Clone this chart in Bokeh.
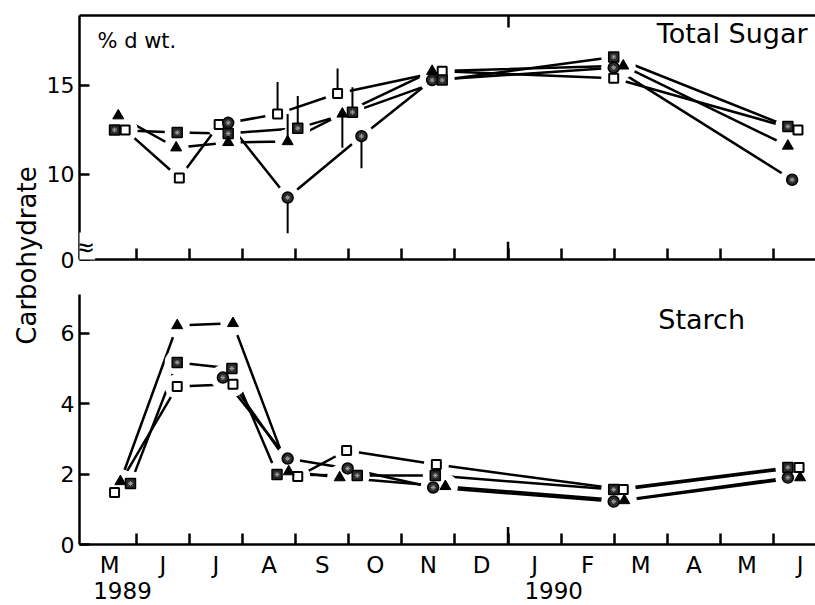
import math
from bokeh.plotting import figure
from bokeh.layouts import row, column
from bokeh.models import Range1d, FixedTicker, LinearAxis, Label
from bokeh.embed import file_html
from bokeh.resources import INLINE

# ---------------- data ----------------
MONTHS = ["M", "J", "J", "A", "S", "O", "N", "D", "J", "F", "M", "A", "M", "J"]
MONTH_POS = [i + 0.5 for i in range(14)]          # months since 1 May 1989 (mid-month)
MONTH_BOUNDS = list(range(1, 14))                  # month boundaries
YEAR_LABELS = ["1989", "1990"]
YEAR_POS = [0.74, 8.86]
YEAR_START = 8                                     # 1 Jan 1990

# Total sugar (% d wt.)
SUG_SQ_OPEN_X = [0.79, 1.81, 2.56, 3.66, 4.79, 6.76, 9.99, 13.46]
SUG_SQ_OPEN_Y = [12.5, 9.8, 12.8, 13.4, 14.55, 15.8, 15.4, 12.5]
SUG_SQ_DARK_X = [0.59, 1.77, 2.73, 4.04, 5.07, 6.76, 9.99, 13.27]
SUG_SQ_DARK_Y = [12.5, 12.35, 12.3, 12.6, 13.5, 15.3, 16.6, 12.7]
SUG_TRI_X = [0.66, 1.75, 2.73, 3.85, 4.88, 6.57, 10.17, 13.27]
SUG_TRI_Y = [13.3, 11.5, 11.8, 11.85, 13.4, 15.8, 16.1, 11.6]
SUG_CIRC_X = [2.73, 3.85, 5.24, 6.57, 9.99, 13.35]
SUG_CIRC_Y = [12.9, 8.7, 12.15, 15.3, 16.0, 9.7]

# one-sided error bars (sugar)
SUG_ERR_X = [3.66, 3.85, 3.85, 4.04, 4.79, 4.88, 5.07, 5.24]
SUG_ERR_FROM = [13.4, 11.85, 8.7, 12.6, 14.55, 13.4, 13.5, 12.15]
SUG_ERR_TO = [15.2, 13.4, 6.7, 14.4, 15.95, 11.5, 14.9, 10.35]

# Starch
STA_SQ_OPEN_X = [0.59, 1.77, 2.82, 4.04, 4.96, 6.65, 10.17, 13.48]
STA_SQ_OPEN_Y = [1.48, 4.49, 4.55, 1.93, 2.67, 2.27, 1.56, 2.19]
STA_SQ_DARK_X = [0.89, 1.77, 2.80, 3.65, 5.16, 6.63, 9.99, 13.27]
STA_SQ_DARK_Y = [1.73, 5.17, 5.0, 1.99, 1.96, 1.96, 1.56, 2.19]
STA_TRI_X = [0.70, 1.77, 2.82, 3.87, 4.83, 6.82, 10.19, 13.5]
STA_TRI_Y = [1.79, 6.22, 6.28, 2.07, 1.9, 1.65, 1.25, 1.9]
STA_CIRC_X = [2.63, 3.85, 4.98, 6.59, 9.99, 13.27]
STA_CIRC_Y = [4.74, 2.44, 2.16, 1.62, 1.22, 1.9]

SUG_TICKS = [10, 15]
SUG_BREAK_LABEL = "0"
STA_TICKS = [0, 2, 4, 6]

# ---------------- styling ----------------
FONT = "DejaVu Sans"
X0, X1 = -0.07, 13.79
SUG_Y0, SUG_Y1 = 5.22, 18.93
STA_Y0, STA_Y1 = 0.0, 7.1
AX_W = 2.5
LINE_W = 2.5
LEFT_W = 43
MAIN_W = 815 - LEFT_W


def base_fig(width, height, yr, top, bottom):
    p = figure(width=width, height=height, x_range=Range1d(X0, X1), y_range=yr,
               output_backend="svg", toolbar_location=None,
               x_axis_location=None, y_axis_location=None,
               min_border_left=77 - LEFT_W, min_border_right=0,
               min_border_top=top, min_border_bottom=bottom)
    p.grid.visible = False
    p.outline_line_color = None
    p.background_fill_color = "white"
    p.border_fill_color = "white"
    return p


def style_axis(ax, tick_in):
    ax.axis_line_width = AX_W
    ax.axis_line_color = "black"
    ax.major_tick_line_width = AX_W
    ax.major_tick_line_color = "black"
    ax.major_tick_in = tick_in
    ax.major_tick_out = 0
    ax.minor_tick_line_color = None
    ax.major_label_text_font = FONT
    ax.major_label_text_color = "black"


def series(p, xs, ys):
    p.line(xs, ys, line_width=LINE_W, line_color="black")


def halos(p, xs, ys):
    p.scatter(xs, ys, marker="circle", size=25, fill_color="white", line_color=None)


def markers(p, sq_open, sq_dark, tri, circ):
    p.scatter(sq_open[0], sq_open[1], marker="square", size=9, fill_color="white",
              line_color="black", line_width=2)
    p.scatter(sq_dark[0], sq_dark[1], marker="square", size=10, fill_color="#2a2a2a",
              line_color="black", line_width=1.5)
    p.scatter(sq_dark[0], sq_dark[1], marker="asterisk", size=5, line_color="#9a9a9a",
              line_width=1)
    p.scatter(tri[0], tri[1], marker="triangle", size=11, fill_color="black",
              line_color="black", line_width=1)
    p.scatter(circ[0], circ[1], marker="circle", size=11, fill_color="#2a2a2a",
              line_color="black", line_width=1.5)
    p.scatter(circ[0], circ[1], marker="asterisk", size=5, line_color="#9a9a9a",
              line_width=1)


# ---------------- top panel: total sugar ----------------
p1 = base_fig(MAIN_W, 277, Range1d(SUG_Y0, SUG_Y1), 15, 18)

ly = LinearAxis(ticker=FixedTicker(ticks=[SUG_Y0] + SUG_TICKS),
                major_label_overrides={SUG_Y0: SUG_BREAK_LABEL})
style_axis(ly, 10)
ly.major_label_text_font_size = "22px"
ly.major_label_standoff = 5
p1.add_layout(ly, "left")

bx = LinearAxis(ticker=FixedTicker(ticks=MONTH_BOUNDS),
                major_label_overrides={b: "" for b in MONTH_BOUNDS})
style_axis(bx, 11)
bx.major_label_text_font_size = "0px"
bx.major_label_standoff = 0
p1.add_layout(bx, "below")

tx = LinearAxis(ticker=FixedTicker(ticks=[YEAR_START]),
                major_label_overrides={YEAR_START: ""})
style_axis(tx, 12)
tx.major_label_text_font_size = "0px"
tx.major_label_standoff = 0
p1.add_layout(tx, "above")

# taller tick at the year boundary
p1.segment(x0=[YEAR_START], y0=[SUG_Y0], x1=[YEAR_START], y1=[SUG_Y0 + 1.0],
           line_width=AX_W, line_color="black")

for xs, ys in [(SUG_SQ_OPEN_X, SUG_SQ_OPEN_Y), (SUG_SQ_DARK_X, SUG_SQ_DARK_Y),
               (SUG_TRI_X, SUG_TRI_Y), (SUG_CIRC_X, SUG_CIRC_Y)]:
    series(p1, xs, ys)
for xs, ys in [(SUG_SQ_OPEN_X, SUG_SQ_OPEN_Y), (SUG_SQ_DARK_X, SUG_SQ_DARK_Y),
               (SUG_TRI_X, SUG_TRI_Y), (SUG_CIRC_X, SUG_CIRC_Y)]:
    halos(p1, xs, ys)
p1.segment(x0=SUG_ERR_X, y0=SUG_ERR_FROM, x1=SUG_ERR_X, y1=SUG_ERR_TO,
           line_width=2, line_color="black")
markers(p1, (SUG_SQ_OPEN_X, SUG_SQ_OPEN_Y), (SUG_SQ_DARK_X, SUG_SQ_DARK_Y),
        (SUG_TRI_X, SUG_TRI_Y), (SUG_CIRC_X, SUG_CIRC_Y))

p1.add_layout(Label(x=0.27, y=17.5, text="% d wt.", text_font=FONT, text_color="black",
                    text_font_size="21px", text_baseline="middle", text_align="left"))
p1.add_layout(Label(x=13.64, y=17.9, text="Total Sugar", text_font=FONT, text_color="black",
                    text_font_size="27px", text_baseline="middle", text_align="right"))
p1.add_layout(Label(x=0.02, y=5.9, text="≈", text_font=FONT, text_color="black",
                    text_font_size="26px", text_baseline="middle", text_align="center",
                    background_fill_color="white"))

# ---------------- bottom panel: starch ----------------
p2 = base_fig(MAIN_W, 328, Range1d(STA_Y0, STA_Y1), 17, 61)

ly2 = LinearAxis(ticker=FixedTicker(ticks=STA_TICKS))
style_axis(ly2, 10)
ly2.major_label_text_font_size = "22px"
ly2.major_label_standoff = 5
p2.add_layout(ly2, "left")

bx2 = LinearAxis(ticker=FixedTicker(ticks=MONTH_POS, minor_ticks=MONTH_BOUNDS),
                 major_label_overrides={m: lab for m, lab in zip(MONTH_POS, MONTHS)})
style_axis(bx2, 0)
bx2.major_tick_line_color = None
bx2.minor_tick_line_color = "black"
bx2.minor_tick_line_width = AX_W
bx2.minor_tick_in = 11
bx2.minor_tick_out = 0
bx2.major_label_text_font_size = "23px"
bx2.major_label_standoff = 7
p2.add_layout(bx2, "below")

yx = LinearAxis(ticker=FixedTicker(ticks=YEAR_POS),
                major_label_overrides={y: lab for y, lab in zip(YEAR_POS, YEAR_LABELS)})
style_axis(yx, 0)
yx.axis_line_color = None
yx.major_tick_line_color = None
yx.major_label_text_font_size = "23px"
yx.major_label_standoff = 1
p2.add_layout(yx, "below")

p2.segment(x0=[YEAR_START], y0=[STA_Y0], x1=[YEAR_START], y1=[STA_Y0 + 0.5],
           line_width=AX_W, line_color="black")

for xs, ys in [(STA_SQ_OPEN_X, STA_SQ_OPEN_Y), (STA_SQ_DARK_X, STA_SQ_DARK_Y),
               (STA_TRI_X, STA_TRI_Y), (STA_CIRC_X, STA_CIRC_Y)]:
    series(p2, xs, ys)
for xs, ys in [(STA_SQ_OPEN_X, STA_SQ_OPEN_Y), (STA_SQ_DARK_X, STA_SQ_DARK_Y),
               (STA_TRI_X, STA_TRI_Y), (STA_CIRC_X, STA_CIRC_Y)]:
    halos(p2, xs, ys)
markers(p2, (STA_SQ_OPEN_X, STA_SQ_OPEN_Y), (STA_SQ_DARK_X, STA_SQ_DARK_Y),
        (STA_TRI_X, STA_TRI_Y), (STA_CIRC_X, STA_CIRC_Y))

p2.add_layout(Label(x=10.83, y=6.39, text="Starch", text_font=FONT, text_color="black",
                    text_font_size="27px", text_baseline="middle", text_align="left"))

# ---------------- shared y label ----------------
pl = figure(width=LEFT_W, height=605, x_range=Range1d(0, LEFT_W), y_range=Range1d(0, 605),
            output_backend="svg", toolbar_location=None,
            x_axis_location=None, y_axis_location=None,
            min_border_left=0, min_border_right=0, min_border_top=0, min_border_bottom=0)
pl.grid.visible = False
pl.outline_line_color = None
pl.add_layout(Label(x=26, y=350, text="Carbohydrate", text_font=FONT, text_color="black",
                    text_font_size="26px", angle=math.pi / 2,
                    text_align="center", text_baseline="middle"))

layout = row(pl, column(p1, p2, spacing=0), spacing=0)
open("out.html", "w").write(file_html(layout, INLINE))
